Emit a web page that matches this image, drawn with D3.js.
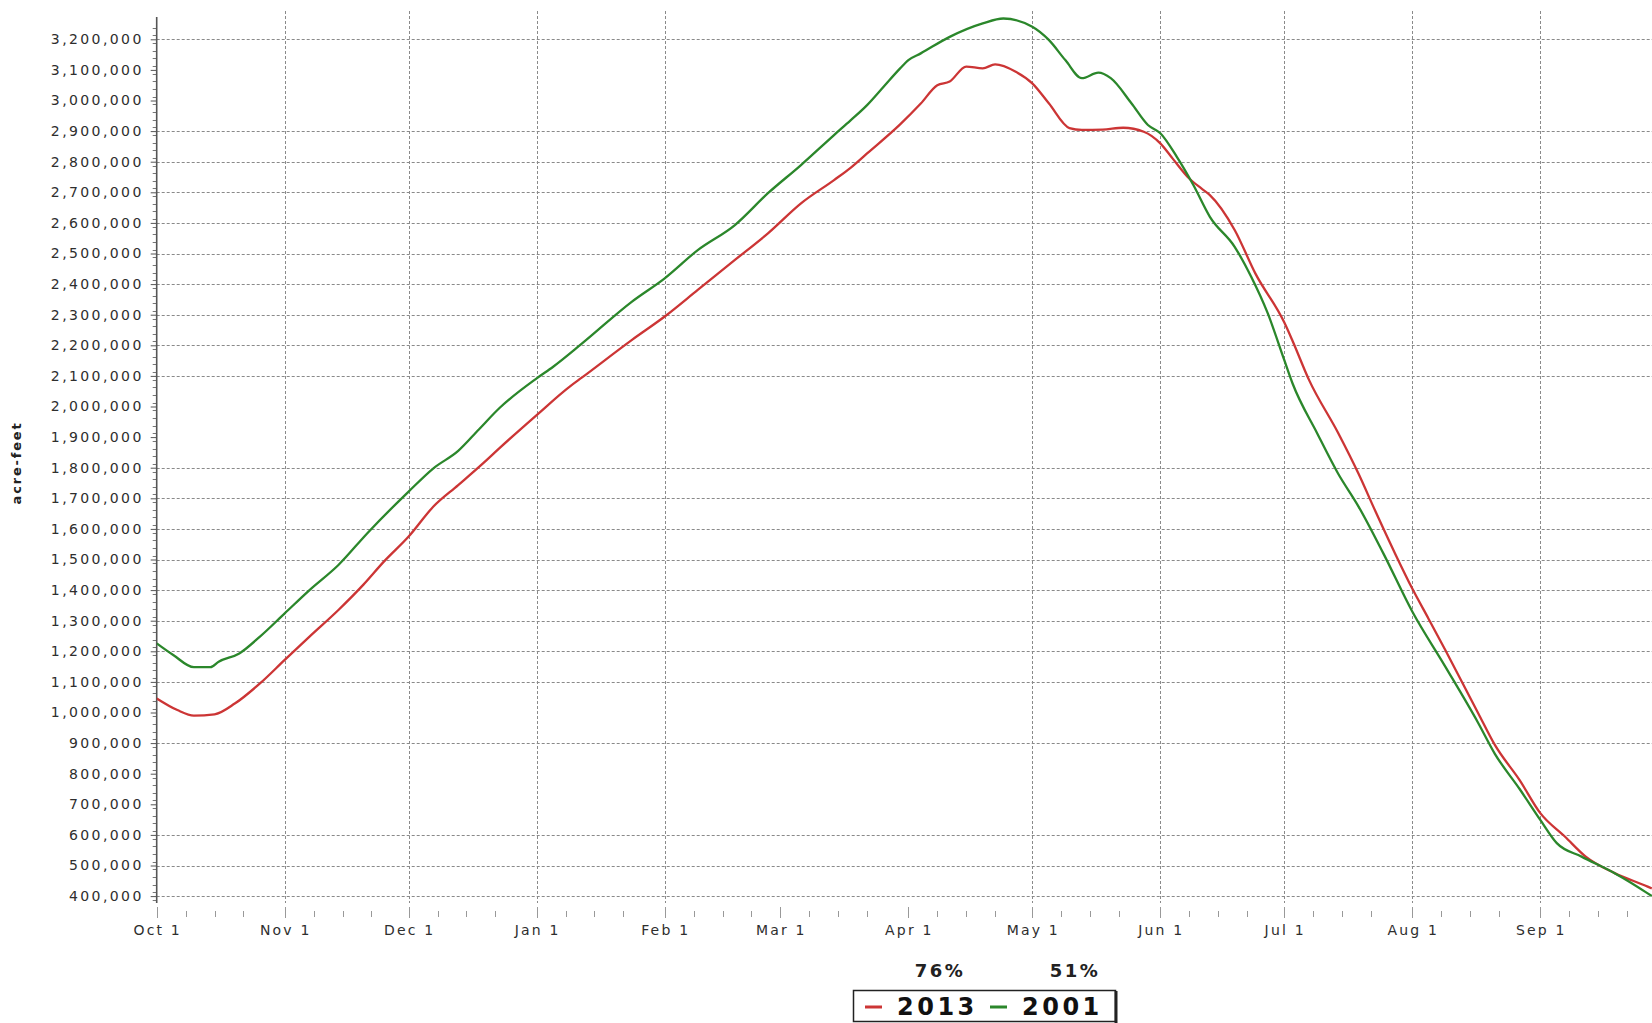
<!DOCTYPE html>
<html><head><meta charset="utf-8">
<script src="https://cdn.jsdelivr.net/npm/d3@7"></script>
<style>
body{margin:0;background:#fff}
svg{display:block}
text{font-family:"DejaVu Sans",Verdana,sans-serif}
</style>
</head><body>
<svg id="chart" width="1652" height="1023"></svg>
<script>
// ---- data ----
const waterYearStart = "2012-10-01";
const seriesNames = ["2013", "2001"];
const seriesPercents = ["76%", "51%"];
const seriesColors = ["#cc3535", "#2b872b"];

// day offsets from Oct 1 and storage (acre-feet)
const days2013 = [0,5,9,14,19,25,31,37,44,50,55,61,67,73,79,83,92,100,103,115,123,131,140,148,156,164,168,172,180,185,189,192,196,200,203,208,212,216,221,224,229,234,239,243,246,250,253,255,261,266,273,275,279,286,291,295,300,304,308,312,320,324,330,335,341,346,353,361,362];
const values2013 = [1046000,1008000,990000,994000,1030000,1095000,1172000,1248000,1335000,1417000,1493000,1575000,1673000,1743000,1814000,1864000,1972000,2065000,2095000,2217000,2294000,2381000,2479000,2566000,2664000,2740000,2780000,2827000,2922000,2990000,3050000,3062000,3111000,3105000,3118000,3094000,3056000,2991000,2910000,2904000,2905000,2911000,2898000,2860000,2810000,2745000,2712000,2691000,2577000,2435000,2275000,2215000,2087000,1915000,1780000,1660000,1515000,1405000,1305000,1204000,997000,894000,779000,671000,594000,529000,475000,431000,425000];

const days2001 = [0,4,9,13,15,20,25,31,37,44,51,61,67,73,78,83,92,96,103,115,123,131,140,148,156,164,168,172,176,180,182,185,192,200,205,212,216,220,224,228,231,236,240,243,247,251,255,261,265,269,273,275,281,286,291,297,304,312,320,324,330,335,339,345,353,361,362];
const values2001 = [1226000,1188000,1148000,1148000,1166000,1193000,1248000,1324000,1400000,1482000,1586000,1722000,1798000,1855000,1925000,1995000,2092000,2130000,2206000,2342000,2419000,2511000,2593000,2697000,2789000,2887000,2935000,2985000,3045000,3105000,3132000,3154000,3208000,3252000,3268000,3241000,3198000,3132000,3073000,3091000,3073000,2991000,2920000,2893000,2816000,2724000,2620000,2522000,2424000,2305000,2152000,2076000,1912000,1782000,1673000,1520000,1330000,1150000,965000,865000,750000,649000,573000,529000,475000,409000,400000];

const yTickValues = [400000,500000,600000,700000,800000,900000,1000000,1100000,1200000,1300000,1400000,1500000,1600000,1700000,1800000,1900000,2000000,2100000,2200000,2300000,2400000,2500000,2600000,2700000,2800000,2900000,3000000,3100000,3200000];
const yGridValues = [3200000,2900000,2800000,2700000,2600000,2500000,2400000,2300000,2200000,2100000,1800000,1700000,1600000,1500000,1400000,1300000,1200000,1100000,900000,600000,500000,400000];
const monthTickDates = ["2012-10-01","2012-11-01","2012-12-01","2013-01-01","2013-02-01","2013-03-01","2013-04-01","2013-05-01","2013-06-01","2013-07-01","2013-08-01","2013-09-01"];
const monthTickLabels = ["Oct 1","Nov 1","Dec 1","Jan 1","Feb 1","Mar 1","Apr 1","May 1","Jun 1","Jul 1","Aug 1","Sep 1"];
const gridMonthDates = ["2012-11-01","2012-12-01","2013-01-01","2013-02-01","2013-05-01","2013-06-01","2013-07-01","2013-08-01","2013-09-01"];
const minorTickDays = [8, 15, 22];
const yAxisTitle = "acre-feet";

// ---- layout ----
const svg = d3.select("#chart");
const parse = d3.utcParse("%Y-%m-%d");
const start = parse(waterYearStart);
const left = 156.7, plotBottom = 903;

const x = d3.scaleUtc()
  .domain([start, d3.utcDay.offset(start, 362)])
  .range([left, 1651.8]);
const y = d3.scaleLinear().domain([400000, 3200000]).range([896.1, 39.3]);

const gridStyle = s => s.attr("stroke", "#8a8a8a").attr("stroke-width", 1).attr("stroke-dasharray", "3,2");

// horizontal grid
svg.append("g").selectAll("line").data(yGridValues).join("line")
  .attr("x1", left).attr("x2", 1652)
  .attr("y1", d => Math.round(y(d)) + 0.5).attr("y2", d => Math.round(y(d)) + 0.5)
  .call(gridStyle);

// vertical grid
svg.append("g").selectAll("line").data(gridMonthDates.map(parse)).join("line")
  .attr("x1", d => Math.round(x(d)) + 0.5).attr("x2", d => Math.round(x(d)) + 0.5)
  .attr("y1", 11).attr("y2", plotBottom)
  .call(gridStyle);

// x ticks: months + minor
const minorDates = [];
monthTickDates.forEach(m => {
  const d0 = parse(m);
  minorTickDays.forEach(dd => minorDates.push(new Date(Date.UTC(d0.getUTCFullYear(), d0.getUTCMonth(), dd))));
});
svg.append("g").selectAll("line").data(minorDates.filter(d => x(d) < 1652)).join("line")
  .attr("x1", d => Math.round(x(d)) + 0.5).attr("x2", d => Math.round(x(d)) + 0.5)
  .attr("y1", 911).attr("y2", 917).attr("stroke", "#999").attr("stroke-width", 1);
svg.append("g").selectAll("line").data(monthTickDates.map(parse)).join("line")
  .attr("x1", d => Math.round(x(d)) + 0.5).attr("x2", d => Math.round(x(d)) + 0.5)
  .attr("y1", 907).attr("y2", 918).attr("stroke", "#999").attr("stroke-width", 1);

// x labels
svg.append("g").selectAll("text").data(monthTickDates).join("text")
  .attr("x", (d) => x(parse(d)) + 1)
  .attr("y", 935)
  .attr("text-anchor", "middle")
  .attr("font-size", 14).attr("letter-spacing", 2.2)
  .attr("fill", "#2e2e2e")
  .text((d, i) => monthTickLabels[i]);

// y axis
const yAxis = d3.axisLeft(y).tickValues(yTickValues).tickFormat(d3.format(",")).tickSize(6).tickPadding(7);
const gy = svg.append("g").attr("transform", `translate(${left},0)`).call(yAxis);
gy.select(".domain").remove();
gy.selectAll(".tick line").attr("stroke", "#555");
gy.selectAll(".tick text")
  .attr("font-family", "DejaVu Sans, Verdana, sans-serif")
  .attr("font-size", 14).attr("letter-spacing", 2.4)
  .attr("fill", "#2e2e2e");
// minor y ticks
const minorY = d3.range(387500, 3260000, 25000).filter(v => v % 100000 !== 0);
svg.append("g").selectAll("line").data(minorY).join("line")
  .attr("x1", left - 4).attr("x2", left)
  .attr("y1", d => Math.round(y(d)) + 0.5).attr("y2", d => Math.round(y(d)) + 0.5)
  .attr("stroke", "#777").attr("stroke-width", 1);
svg.append("line").attr("x1", left).attr("x2", left).attr("y1", 17).attr("y2", plotBottom)
  .attr("stroke", "#555").attr("stroke-width", 1.6);

svg.append("text")
  .attr("transform", `translate(21,463) rotate(-90)`)
  .attr("text-anchor", "middle")
  .attr("font-size", 13).attr("font-weight", "bold").attr("letter-spacing", 1.8)
  .attr("fill", "#222")
  .text(yAxisTitle);

// lines
const line = d3.line().x(d => x(d3.utcDay.offset(start, d[0]))).y(d => y(d[1])).curve(d3.curveMonotoneX);
const series = [
  days2013.map((d, i) => [d, values2013[i]]),
  days2001.map((d, i) => [d, values2001[i]])
];
svg.append("defs").append("clipPath").attr("id", "clip")
  .append("rect").attr("x", left).attr("y", 0).attr("width", 1652 - left).attr("height", plotBottom);
const gl = svg.append("g").attr("clip-path", "url(#clip)");
series.forEach((s, i) => {
  gl.append("path").datum(s)
    .attr("fill", "none").attr("stroke", seriesColors[i]).attr("stroke-width", 2.3)
    .attr("stroke-linejoin", "round")
    .attr("d", line);
});

// percents
const pctX = [940, 1075];
svg.append("g").selectAll("text").data(seriesPercents).join("text")
  .attr("x", (d, i) => pctX[i]).attr("y", 977)
  .attr("text-anchor", "middle")
  .attr("font-size", 18).attr("font-weight", "bold").attr("letter-spacing", 2.5)
  .attr("fill", "#222")
  .text(d => d);

// legend
const lg = svg.append("g");
lg.append("rect").attr("x", 853.5).attr("y", 990.5).attr("width", 262).attr("height", 31)
  .attr("fill", "#fff").attr("stroke", "#222").attr("stroke-width", 1.5);
lg.append("line").attr("x1", 1116).attr("x2", 1116).attr("y1", 991).attr("y2", 1023)
  .attr("stroke", "#222").attr("stroke-width", 3);
const legX = [865, 990];
const legTextX = [897, 1022];
seriesNames.forEach((n, i) => {
  lg.append("line").attr("x1", legX[i]).attr("x2", legX[i] + 17).attr("y1", 1007).attr("y2", 1007)
    .attr("stroke", seriesColors[i]).attr("stroke-width", 3);
  lg.append("text").attr("x", legTextX[i]).attr("y", 1015)
    .attr("font-family", "DejaVu Sans Mono, monospace")
    .attr("font-size", 24).attr("font-weight", "bold").attr("letter-spacing", 3.5)
    .attr("fill", "#111")
    .text(n);
});
</script>
</body></html>
